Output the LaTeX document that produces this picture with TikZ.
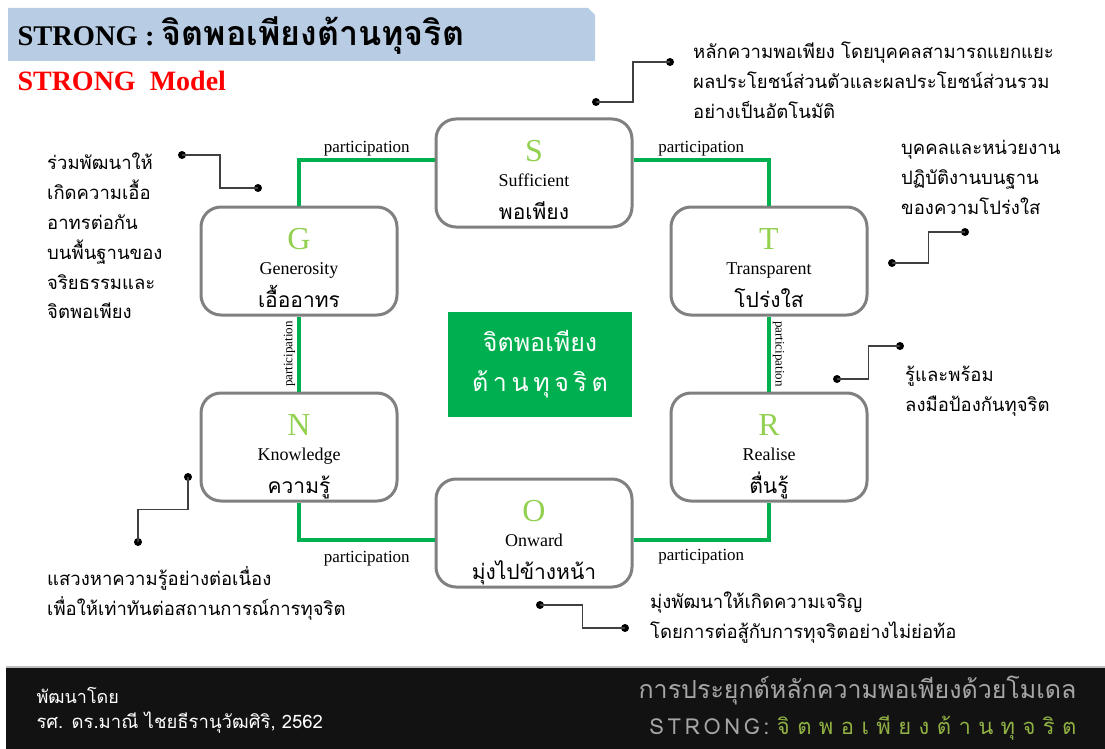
\documentclass[tikz,border=0pt]{standalone}
\usepackage{fontspec}
\setmainfont{Liberation Serif}
\newfontfamily\thai[Script=Thai]{Loma}
\usetikzlibrary{calc}
\definecolor{titleblue}{HTML}{B8CCE4}
\definecolor{boxgray}{HTML}{808080}
\definecolor{linkgreen}{HTML}{00B050}
\definecolor{lettergreen}{HTML}{92D050}
\definecolor{pingray}{HTML}{404040}
\definecolor{footgray}{HTML}{A6A6A6}
\definecolor{footgreen}{HTML}{8FB043}
\begin{document}
\begin{tikzpicture}[x=1pt,y=-1pt,
    box/.style={draw=boxgray,line width=3pt,rounded corners=20pt,minimum width=196pt,minimum height=108pt},
    letter/.style={anchor=base,text=lettergreen,inner sep=0pt,font=\fontsize{32}{32}\selectfont},
    eng/.style={anchor=base,inner sep=0pt,font=\fontsize{18}{18}\selectfont},
    thainame/.style={anchor=base,inner sep=0pt,font=\thai\fontsize{21}{21}\selectfont},
    link/.style={draw=linkgreen,line width=3.5pt},
    part/.style={inner sep=2pt,text=black,font=\fontsize{17}{17}\selectfont},
    note/.style={anchor=north west,align=left,inner sep=0pt,font=\thai\fontsize{18.5}{29.8}\selectfont},
    pin/.style={draw=pingray,line width=1.3pt},
    dot/.style={circle,fill=black,inner sep=0pt,minimum size=8pt}]
  \useasboundingbox (0,0) rectangle (1105,749);
  \fill[titleblue] (8,8) -- (588,8) -- (595,15) -- (595,61) -- (8,61) -- cycle;
  \node[anchor=west,font=\bfseries\fontsize{28.5}{28.5}\selectfont] (title) at (14,36) {STRONG : {\thai\fontsize{34}{34}\selectfont จิตพอเพียงต้านทุจริต}};
  \node[anchor=west,text=red,font=\bfseries\fontsize{28}{28}\selectfont] (model) at (14,81) {STRONG\ \ Model};

  \node[box] (s) at (534,173) {};
  \node[box] (t) at (769,261) {};
  \node[box] (g) at (299,261) {};
  \node[box] (n) at (299,447) {};
  \node[box] (r) at (769,447) {};
  \node[box] (o) at (534,533) {};

  \node[letter] (sl) at ([yshift=12pt]s.center) {S};
  \node[eng] (se) at ([yshift=-13pt]s.center) {Sufficient};
  \node[thainame] (st) at ([yshift=-46pt]s.center) {พอเพียง};
  \node[letter] (tl) at ([yshift=12pt]t.center) {T};
  \node[eng] (te) at ([yshift=-13pt]t.center) {Transparent};
  \node[thainame] (tt) at ([yshift=-46pt]t.center) {โปร่งใส};
  \node[letter] (gl) at ([yshift=12pt]g.center) {G};
  \node[eng] (ge) at ([yshift=-13pt]g.center) {Generosity};
  \node[thainame] (gt) at ([yshift=-46pt]g.center) {เอื้ออาทร};
  \node[letter] (nl) at ([yshift=12pt]n.center) {N};
  \node[eng] (ne) at ([yshift=-13pt]n.center) {Knowledge};
  \node[thainame] (nt) at ([yshift=-46pt]n.center) {ความรู้};
  \node[letter] (rl) at ([yshift=12pt]r.center) {R};
  \node[eng] (re) at ([yshift=-13pt]r.center) {Realise};
  \node[thainame] (rt) at ([yshift=-46pt]r.center) {ตื่นรู้};
  \node[letter] (ol) at ([yshift=12pt]o.center) {O};
  \node[eng] (oe) at ([yshift=-13pt]o.center) {Onward};
  \node[thainame] (ot) at ([yshift=-46pt]o.center) {มุ่งไปข้างหน้า};

  \node[fill=linkgreen,minimum width=184pt,minimum height=105pt,text=white,align=center,
    font=\thai\fontsize{25}{40}\selectfont] (core) at (540,364) {จิตพอเพียง\\{\spaceskip=4.6pt ต้ า น ทุ จ ริ ต}};

  \draw[link] ([yshift=13pt]s.west) -| node[part,above,pos=.25] {participation} (g.north);
  \draw[link] ([yshift=13pt]s.east) -| node[part,above,pos=.25] {participation} (t.north);
  \draw[link] (g.south) -- node[part,rotate=90,anchor=south,font=\fontsize{13}{13}\selectfont] {participation} (n.north);
  \draw[link] (t.south) -- node[part,rotate=-90,anchor=south,font=\fontsize{13}{13}\selectfont] {participation} (r.north);
  \draw[link] (n.south) |- node[part,below=7pt,pos=.75] {participation} ([yshift=-7pt]o.west);
  \draw[link] ([yshift=-7pt]o.east) -| node[part,below=5pt,pos=.25] {participation} (r.south);

  \node[dot] (sa) at (596,102) {};
  \node[dot] (sb) at (670,62) {};
  \draw[pin] (sa.center) -| ($(sa)!.5!(sb)$) |- (sb.center);
  \node[note] (snote) at (693,42) {หลักความพอเพียง โดยบุคคลสามารถแยกแยะ\\ผลประโยชน์ส่วนตัวและผลประโยชน์ส่วนรวม\\อย่างเป็นอัตโนมัติ};

  \node[dot] (ga) at (182,155) {};
  \node[dot] (gb) at (258,188) {};
  \draw[pin] (ga.center) -| ($(ga)!.5!(gb)$) |- (gb.center);
  \node[note] (gnote) at (47,153) {ร่วมพัฒนาให้\\เกิดความเอื้อ\\อาทรต่อกัน\\บนพื้นฐานของ\\จริยธรรมและ\\จิตพอเพียง};

  \node[dot] (ta) at (965,232) {};
  \node[dot] (tb) at (892,263) {};
  \draw[pin] (ta.center) -| ($(ta)!.5!(tb)$) |- (tb.center);
  \node[note] (tnote) at (901,140) {บุคคลและหน่วยงาน\\ปฏิบัติงานบนฐาน\\ของความโปร่งใส};

  \node[dot] (ra) at (900,346) {};
  \node[dot] (rb) at (837,379) {};
  \draw[pin] (ra.center) -| ($(ra)!.5!(rb)$) |- (rb.center);
  \node[note] (rnote) at (905,366) {รู้และพร้อม\\ลงมือป้องกันทุจริต};

  \node[dot] (na) at (188,477) {};
  \node[dot] (nb) at (138,542) {};
  \draw[pin] (na.center) |- ($(na)!.5!(nb)$) -| (nb.center);
  \node[note] (nnote) at (47,566) {แสวงหาความรู้อย่างต่อเนื่อง\\เพื่อให้เท่าทันต่อสถานการณ์การทุจริต};

  \node[dot] (oa) at (540,605) {};
  \node[dot] (ob) at (625,628) {};
  \draw[pin] (oa.center) -| ($(oa)!.5!(ob)$) |- (ob.center);
  \node[note] (onote) at (650,592) {มุ่งพัฒนาให้เกิดความเจริญ\\โดยการต่อสู้กับการทุจริตอย่างไม่ย่อท้อ};

  \fill[black!93] (6,668) rectangle (1105,749);
  \draw[black!25,line width=1.5pt] (6,667) -- (1105,667);
  \node[anchor=west,text=white,font=\thai\fontsize{18}{18}\selectfont] (dev) at (33,695) {พัฒนาโดย};
  \node[anchor=west,text=white,font=\thai\fontsize{18.5}{18.5}\selectfont] (author) at (33,723) {รศ. ดร.มาณี ไชยธีรานุวัฒศิริ, 2562};
  \node[anchor=east,text=footgray,font=\thai\fontsize{25}{25}\selectfont] (apply) at (1080,690) {การประยุกต์หลักความพอเพียงด้วยโมเดล};
  \node[anchor=east,font=\thai\fontsize{22}{22}\selectfont] (brand) at (1080,728) {\textcolor{footgray}{S\,T\,R\,O\,N\,G\,:} \textcolor{footgreen}{จิ ต พ อ เ พี ย ง ต้ า น ทุ จ ริ ต}};
\end{tikzpicture}
\end{document}
